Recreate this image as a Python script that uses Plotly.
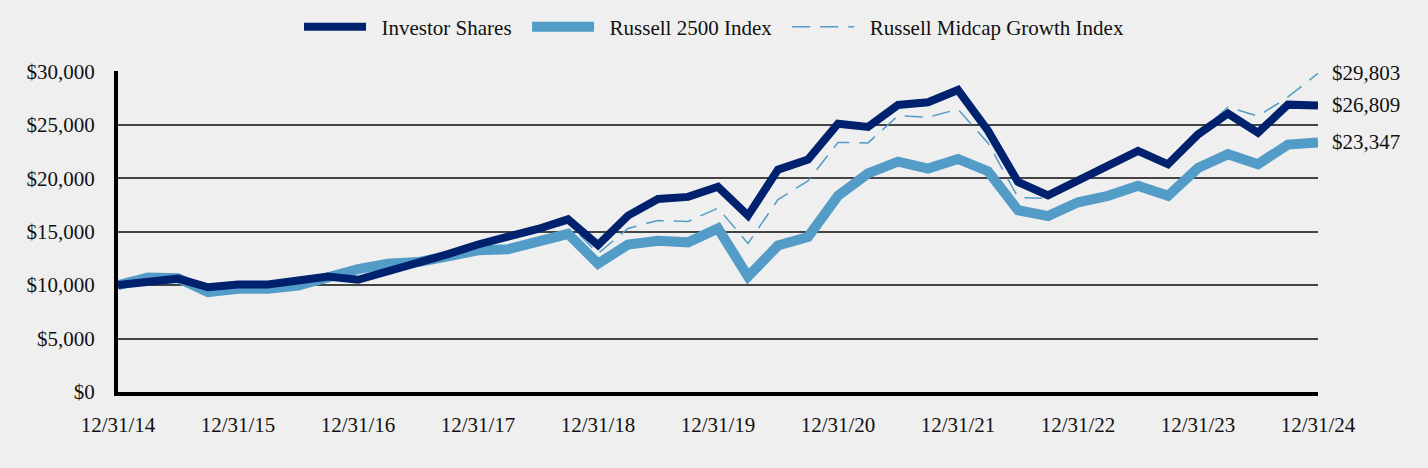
import plotly.graph_objects as go

dates = ["12/31/14", "12/31/15", "12/31/16", "12/31/17", "12/31/18", "12/31/19",
         "12/31/20", "12/31/21", "12/31/22", "12/31/23", "12/31/24"]

investor = [10000, 10250, 10600, 9800, 10050, 10050, 10400, 10800, 10500, 11250,
            12150, 12900, 13800, 14500, 15250, 16150, 13750, 16500, 18050, 18250,
            19200, 16500, 20800, 21750, 25100, 24800, 26850, 27100, 28250, 24450,
            19650, 18400, 19750, 21300, 22550, 21300, 24100, 26050, 24250, 26880, 26809]

r2500 = [10000, 10700, 10650, 9350, 9650, 9650, 9950, 10750, 11500, 12000,
         12150, 12700, 13250, 13350, 14100, 14800, 12000, 13800, 14150, 14000,
         15300, 10800, 13700, 14500, 18350, 20450, 21550, 20900, 21800, 20650,
         17000, 16450, 17750, 18350, 19300, 18350, 20950, 22250, 21300, 23150, 23347]

midcap = [10000, 10200, 10500, 9700, 9900, 9950, 10300, 10800, 10700, 11300,
          12150, 12850, 13700, 14300, 15000, 15800, 12950, 15300, 16050, 15950,
          17200, 13900, 18000, 19750, 23350, 23300, 25850, 25700, 26450, 23300,
          18200, 18100, 19600, 21200, 22400, 21150, 24100, 26650, 25800, 27600, 29803]

n = len(investor)
xs = list(range(n))
tickvals = [i * 4 for i in range(len(dates))]

DARK = "#00226e"
LIGHT = "#539cc7"
BG = "#efefef"
FONT = "Liberation Serif"
SP = "\u00a0\u00a0"

fig = go.Figure()
fig.add_trace(go.Scatter(x=xs, y=r2500, mode="lines", name=SP + "Russell 2500 Index" + SP,
                         line=dict(color=LIGHT, width=10), legendrank=2))
fig.add_trace(go.Scatter(x=xs, y=midcap, mode="lines", name=SP + "Russell Midcap Growth Index",
                         line=dict(color=LIGHT, width=1.5, dash="18px,10px"), legendrank=3))
fig.add_trace(go.Scatter(x=xs, y=investor, mode="lines", name=SP + "Investor Shares" + SP,
                         line=dict(color=DARK, width=8), legendrank=1))

for series in (midcap, investor, r2500):
    fig.add_annotation(x=1.01, xref="paper", y=series[-1], yref="y", xanchor="left",
                       yanchor="middle", text="${:,}".format(series[-1]), showarrow=False,
                       font=dict(family=FONT, size=21, color="#111"))

fig.update_layout(
    width=1428, height=468,
    paper_bgcolor=BG, plot_bgcolor=BG,
    margin=dict(l=118, r=110, t=68, b=76),
    font=dict(family=FONT, size=21, color="#111"),
    showlegend=True,
    legend=dict(orientation="h", xref="container", yref="container", x=0.5, y=0.942,
                xanchor="center", yanchor="middle", itemwidth=62,
                font=dict(family=FONT, size=21, color="#111"), bgcolor="rgba(0,0,0,0)"),
)
fig.update_xaxes(range=[0, n - 1], tickvals=tickvals, ticktext=dates, showgrid=False,
                 zeroline=False, showline=True, linecolor="black", linewidth=4,
                 ticks="", ticklabelstandoff=11)
fig.update_yaxes(range=[0, 30000], tickvals=[0, 5000, 10000, 15000, 20000, 25000, 30000],
                 ticktext=["$0", "$5,000", "$10,000", "$15,000", "$20,000", "$25,000", "$30,000"],
                 showgrid=True, gridcolor="#444444", gridwidth=2, zeroline=False,
                 showline=True, linecolor="black", linewidth=4, ticks="",
                 ticklabelstandoff=15)

fig.write_html("out.html", config={"displayModeBar": False},
               post_script="document.body.style.margin='0';")
